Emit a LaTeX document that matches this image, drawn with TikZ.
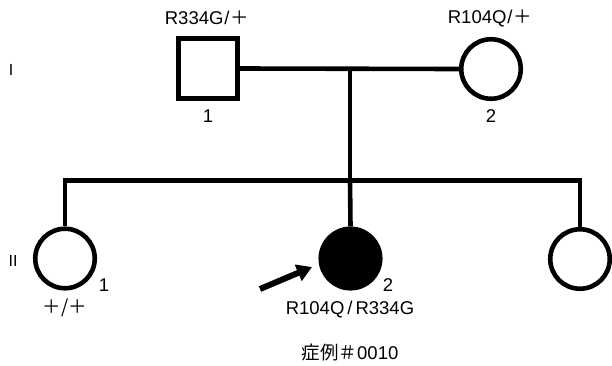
\documentclass[tikz,border=0pt]{standalone}
\usepackage{fontspec}
\setmainfont{Liberation Sans}
\newfontfamily\jp{Noto Sans CJK JP}
\usetikzlibrary{arrows.meta}
\begin{document}
\begin{tikzpicture}[x=1pt,y=-1pt,line width=4.6pt,
  sq/.style={draw,rectangle,minimum size=59.5pt,inner sep=0pt},
  ci/.style={draw,circle,minimum size=59.5pt,inner sep=0pt},
  lbl/.style={inner sep=0pt,font=\fontsize{18.5}{18.5}\selectfont},
  gen/.style={inner sep=0pt,font=\fontsize{16}{16}\selectfont}]
\useasboundingbox (0,0) rectangle (612,365);
\node[sq] (f) at (208,68.5) {};
\node[ci] (m) at (491,69) {};
\coordinate (mid) at (350,68.5);
\node[ci] (c1) at (65,258.5) {};
\node[ci,fill=black] (c2) at (350.5,258.5) {};
\node[ci] (c3) at (580,259) {};
\coordinate (sm) at (350,180.5);
\draw (f.east) -- (m.west);
\draw (mid) -- (sm);
\draw[line join=miter] (c1.north) -- (c1.north |- sm) -- (c3.north |- sm) -- (c3.north);
\draw (sm) -- (c2.north);
\coordinate (at) at (260,289);
\coordinate (ah) at (312,267);
\draw[line width=6pt,-{Triangle[length=15pt,width=17pt]}] (at) -- (ah);
\node[lbl] (t1) at (207,18) {R334G\hspace{1pt}/\hspace{1pt}{\jp ＋}};
\node[lbl] (t2) at (490,18) {R104Q\hspace{1pt}/\hspace{1pt}{\jp ＋}};
\node[lbl] (n1) at (208,116) {1};
\node[lbl] (n2) at (491,116) {2};
\node[gen] (g1) at (11,70) {I};
\node[gen] (g2) at (13,261) {II};
\node[lbl] (n3) at (104,285) {1};
\node[lbl] (t3) at (65,308) {\jp ＋/＋};
\node[lbl] (n4) at (388,285) {2};
\node[lbl] (t4) at (350,310) {R104Q\hspace{3pt}/\hspace{3pt}R334G};
\node[lbl] (t5) at (350,352) {{\jp 症例＃}0010};
\end{tikzpicture}
\end{document}
